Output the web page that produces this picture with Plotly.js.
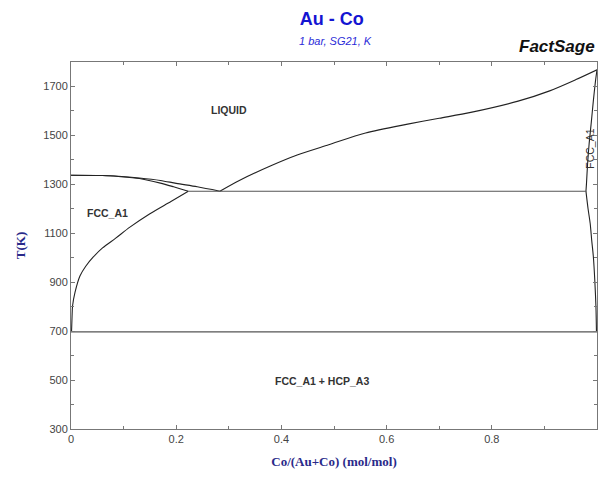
<!DOCTYPE html>
<html>
<head>
<meta charset="utf-8">
<script src="https://cdn.plot.ly/plotly-3.0.1.min.js"></script>
<style>html,body{margin:0;padding:0;background:#fff;}#chart{width:600px;height:479px;}</style>
</head>
<body>
<div id="chart"></div>
<script>
// Au-side liquidus (LIQUID / LIQUID+FCC)
const liqAuX = [0, 0.06, 0.09, 0.13, 0.17, 0.20, 0.24, 0.283];
const liqAuT = [1337, 1336, 1333, 1326, 1316, 1304, 1290, 1272];
// Au-side solidus
const solAuX = [0, 0.06, 0.09, 0.13, 0.17, 0.195, 0.223];
const solAuT = [1337, 1336, 1332, 1324, 1305, 1290, 1272];
// Au-side FCC solvus
const solvAuX = [0.001, 0.002, 0.003, 0.0076, 0.017, 0.028, 0.042, 0.06, 0.085, 0.112, 0.15, 0.19, 0.223];
const solvAuT = [697, 760, 804, 858, 925, 965, 1002, 1040, 1080, 1125, 1180, 1230, 1272];
// Co-side liquidus
const liqCoX = [0.283, 0.32, 0.38, 0.43, 0.49, 0.56, 0.64, 0.70, 0.76, 0.85, 0.91, 0.96, 1.0];
const liqCoT = [1272, 1316, 1376, 1420, 1462, 1510, 1546, 1570, 1594, 1640, 1682, 1728, 1768];
// Co-side solidus
const solCoX = [1.0, 0.997, 0.993, 0.989, 0.985, 0.982, 0.980, 0.979];
const solCoT = [1768, 1720, 1640, 1550, 1465, 1380, 1303, 1272];
// Co-side solvus
const solvCoX = [0.979, 0.983, 0.987, 0.990, 0.993, 0.996, 0.998, 0.999];
const solvCoT = [1272, 1200, 1141, 1070, 1006, 899, 800, 697];
// Invariant lines
const eutX = [0.223, 0.979];
const eutT = [1272, 1272];
const eutdX = [0, 1];
const eutdT = [697, 697];
// Axis ticks
const yTickVals = [300, 500, 700, 900, 1100, 1300, 1500, 1700];
const xTickVals = [0, 0.2, 0.4, 0.6, 0.8, 1];
const xTickText = ['0', '0.2', '0.4', '0.6', '0.8', '1'];

const curve = {color: '#222', width: 1.1, shape: 'spline', smoothing: 0.8};
const flat = {color: '#555', width: 1.1};
function tr(x, y, line) {
  return {x: x, y: y, mode: 'lines', line: line, hoverinfo: 'skip', showlegend: false, type: 'scatter'};
}
const data = [
  tr(liqAuX, liqAuT, curve),
  tr(solAuX, solAuT, curve),
  tr(solvAuX, solvAuT, curve),
  tr(liqCoX, liqCoT, curve),
  tr(solCoX, solCoT, curve),
  tr(solvCoX, solvCoT, curve),
  tr(eutX, eutT, flat),
  tr(eutdX, eutdT, flat)
];

const lblFont = {family: 'Arial, Liberation Sans, sans-serif', size: 10.5, color: '#333', weight: 'bold'};
const layout = {
  width: 600, height: 479,
  margin: {l: 71, r: 3, t: 62, b: 50},
  paper_bgcolor: '#fff', plot_bgcolor: '#fff',
  title: {
    text: '<b>Au - Co</b>',
    font: {family: 'Arial, Liberation Sans, sans-serif', size: 18, color: '#1414d2'},
    x: 0.553, xanchor: 'center', y: 0.962, yanchor: 'middle'
  },
  xaxis: {
    range: [0, 1], showgrid: false, zeroline: false,
    showline: true, linecolor: '#777', linewidth: 1, mirror: 'allticks',
    ticks: 'inside', ticklen: 4, tickcolor: '#777',
    tickvals: xTickVals, ticktext: xTickText,
    minor: {dtick: 0.1, ticks: 'inside', ticklen: 3, tickcolor: '#777'},
    tickfont: {family: 'Arial, Liberation Sans, sans-serif', size: 11, color: '#444'},
    title: {text: '<b>Co/(Au+Co) (mol/mol)</b>', standoff: 12,
      font: {family: 'Liberation Serif, Times New Roman, serif', size: 13, color: '#2a2a8a'}}
  },
  yaxis: {
    range: [300, 1800], showgrid: false, zeroline: false,
    showline: true, linecolor: '#777', linewidth: 1, mirror: 'allticks',
    ticks: 'inside', ticklen: 4, tickcolor: '#777',
    tickvals: yTickVals,
    minor: {dtick: 100, ticks: 'inside', ticklen: 3, tickcolor: '#777'},
    tickfont: {family: 'Arial, Liberation Sans, sans-serif', size: 11, color: '#444'},
    title: {text: '<b>T(K)</b>', standoff: 14,
      font: {family: 'Liberation Serif, Times New Roman, serif', size: 13, color: '#2a2a8a'}}
  },
  annotations: [
    {text: '<i>1 bar, SG21, K</i>', xref: 'paper', yref: 'paper', x: 0.502, y: 1.058,
      xanchor: 'center', yanchor: 'middle', showarrow: false,
      font: {family: 'Arial, Liberation Sans, sans-serif', size: 11, color: '#2b2bd8'}},
    {text: '<b><i>FactSage</i></b>', xref: 'paper', yref: 'paper', x: 1.0, y: 1.01,
      xanchor: 'right', yanchor: 'bottom', showarrow: false,
      font: {family: 'Arial, Liberation Sans, sans-serif', size: 17, color: '#111'}},
    {text: 'LIQUID', x: 0.30, y: 1605, showarrow: false, font: lblFont},
    {text: 'FCC_A1', x: 0.07, y: 1182, showarrow: false, font: lblFont},
    {text: 'FCC_A1 + HCP_A3', x: 0.477, y: 497, showarrow: false, font: lblFont},
    {text: 'FCC_A1', x: 0.985, y: 1446, showarrow: false, textangle: -90,
      font: {family: 'Arial, Liberation Sans, sans-serif', size: 10.5, color: '#333'}}
  ]
};
Plotly.newPlot('chart', data, layout, {displayModeBar: false, staticPlot: true});
</script>
</body>
</html>
